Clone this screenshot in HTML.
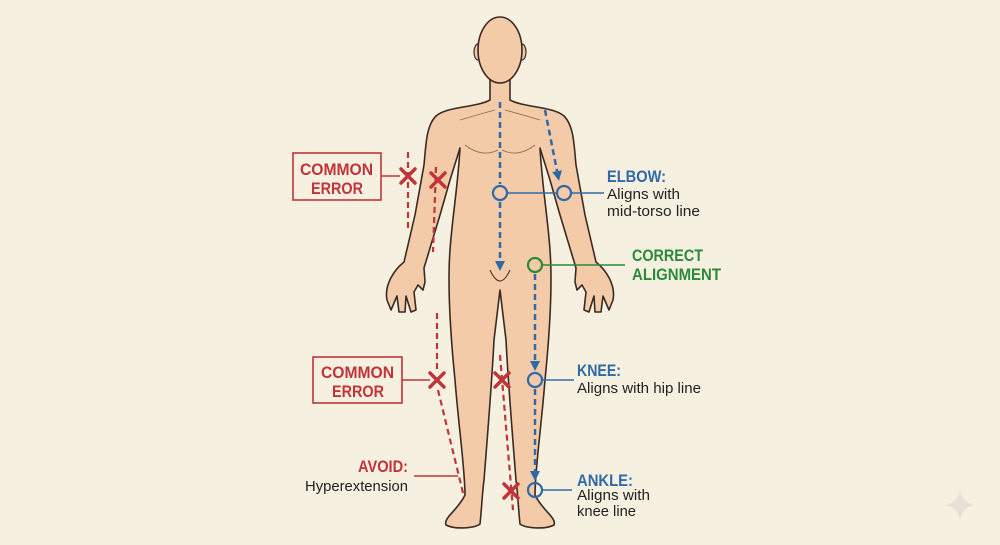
<!DOCTYPE html>
<html><head><meta charset="utf-8"><style>
html,body{margin:0;padding:0;background:#f6f0e0;}
svg{display:block}
text{font-family:"Liberation Sans",sans-serif;}
</style></head><body>
<svg width="1000" height="545" viewBox="0 0 1000 545" xmlns="http://www.w3.org/2000/svg">
<defs>
<marker id="ab" markerWidth="10" markerHeight="10" refX="5" refY="5" orient="auto" markerUnits="userSpaceOnUse"><path d="M0,0 L10,5 L0,10 Z" fill="#2f6aa8"/></marker>
</defs>
<rect width="1000" height="545" fill="#f6f0e0"/>
<!-- body -->
<path fill="#f3cba9" stroke="#3a2a22" stroke-width="1.6" stroke-linejoin="round" d="
M490,78 L490,100 C475,108 448,106 436,116 C426,126 426,145 424,165 L415,215 L404,262
C394,270 384,285 387,300 L391,310 L397,296 L399,312 L405,312 L406,296 L411,312 L416,310 L414,292 L418,285 L423,290 L425,282 L424,268
L440,215 L450,180 L460,148
C458,185 452,220 450,250 C447,290 451,340 455,380 C459,430 465,470 465,495 C458,510 443,518 446,525 C455,530 475,528 480,524 C482,505 482,495 484,480 C488,430 492,380 494,340 L500,290
L506,340 C508,380 512,430 516,480 C518,495 518,505 520,524 C525,528 545,530 554,525 C557,518 542,510 535,495 C535,470 541,430 545,380 C549,340 553,290 550,250 C548,220 542,185 540,148
L550,180 L560,215 L576,268 L575,282 L577,290 L582,285 L586,292 L584,310 L589,312 L594,296 L595,312 L601,312 L603,296 L609,310 L613,300 C616,285 606,270 596,262
L585,215 L576,165 C574,145 574,126 564,116 C552,106 525,108 510,100 L510,78 Z"/>
<ellipse cx="478" cy="52" rx="4" ry="8" fill="#f3cba9" stroke="#3a2a22" stroke-width="1.2"/>
<ellipse cx="522" cy="52" rx="4" ry="8" fill="#f3cba9" stroke="#3a2a22" stroke-width="1.2"/>
<ellipse cx="500" cy="50" rx="22" ry="33" fill="#f3cba9" stroke="#3a2a22" stroke-width="1.6"/>
<path d="M490,270 Q500,292 510,270" fill="none" stroke="#3a2a22" stroke-width="1"/>
<path d="M465,145 Q482,158 498,150 M502,150 Q518,158 535,145 M460,120 Q480,114 495,110 M505,110 Q520,114 540,120" fill="none" stroke="#8a6a55" stroke-width="0.8"/>
<!-- blue lines -->
<g stroke="#2f6aa8" stroke-width="2.5" fill="none">
<line x1="500" y1="102" x2="500" y2="184" stroke-dasharray="6,4"/>
<line x1="500" y1="202" x2="500" y2="266" stroke-dasharray="6,4" marker-end="url(#ab)"/>
<line x1="545" y1="110" x2="558" y2="176" stroke-dasharray="6,4" marker-end="url(#ab)"/>
<line x1="535" y1="274" x2="535" y2="366" stroke-dasharray="6,4" marker-end="url(#ab)"/>
<line x1="535" y1="389" x2="535" y2="476" stroke-dasharray="6,4" marker-end="url(#ab)"/>
</g>
<g stroke="#2f6aa8" stroke-width="1.6" fill="none">
<line x1="507" y1="193" x2="557" y2="193"/><line x1="571" y1="193" x2="604" y2="193"/>
<line x1="542" y1="380" x2="574" y2="380"/><line x1="542" y1="490" x2="572" y2="490"/>
</g>
<g stroke="#2f6aa8" stroke-width="2.2" fill="none">
<circle cx="500" cy="193" r="7"/><circle cx="564" cy="193" r="7"/>
<circle cx="535" cy="380" r="7"/><circle cx="535" cy="490" r="7"/>
</g>
<circle cx="535" cy="265" r="7" stroke="#2a8a3a" stroke-width="2.2" fill="none"/>
<line x1="542" y1="265" x2="625" y2="265" stroke="#2a8a3a" stroke-width="1.6"/>
<!-- red -->
<g stroke="#c0343a" stroke-width="2.2" fill="none" stroke-dasharray="6,4">
<line x1="408" y1="152" x2="408" y2="228"/>
<line x1="436" y1="167" x2="433" y2="252"/>
<line x1="437" y1="313" x2="437" y2="372"/>
<line x1="438" y1="390" x2="464" y2="497"/>
<line x1="500" y1="355" x2="513" y2="510"/>
</g>
<g stroke="#c0343a" stroke-width="1.6" fill="#f6f0e0">
<rect x="293" y="153" width="88" height="47"/>
<rect x="313" y="357" width="89" height="46"/>
</g>
<g stroke="#c0343a" stroke-width="1.6">
<line x1="381" y1="176" x2="400" y2="176"/>
<line x1="402" y1="380" x2="430" y2="380"/>
<line x1="414" y1="476" x2="458" y2="476"/>
</g>
<g stroke="#c0343a" stroke-width="3.5" stroke-linecap="round">
<path d="M401,169 L415,183 M415,169 L401,183"/>
<path d="M431,173 L445,187 M445,173 L431,187"/>
<path d="M430,373 L444,387 M444,373 L430,387"/>
<path d="M495,373 L509,387 M509,373 L495,387"/>
<path d="M504,484 L518,498 M518,484 L504,498"/>
</g>
<g fill="#c0343a" font-weight="bold" font-size="17" lengthAdjust="spacingAndGlyphs">
<text x="300" y="175" textLength="73" lengthAdjust="spacingAndGlyphs">COMMON</text>
<text x="311" y="194" textLength="52" lengthAdjust="spacingAndGlyphs">ERROR</text>
<text x="321" y="378" textLength="73" lengthAdjust="spacingAndGlyphs">COMMON</text>
<text x="332" y="397" textLength="52" lengthAdjust="spacingAndGlyphs">ERROR</text>
<text x="358" y="472" textLength="50" lengthAdjust="spacingAndGlyphs">AVOID:</text>
</g>
<text x="305" y="491" font-size="15" fill="#222" textLength="103" lengthAdjust="spacingAndGlyphs">Hyperextension</text>
<g fill="#2f6aa8" font-weight="bold" font-size="17">
<text x="607" y="182" textLength="59" lengthAdjust="spacingAndGlyphs">ELBOW:</text>
<text x="577" y="376" textLength="44" lengthAdjust="spacingAndGlyphs">KNEE:</text>
<text x="577" y="486" textLength="56" lengthAdjust="spacingAndGlyphs">ANKLE:</text>
</g>
<g fill="#2a8a3a" font-weight="bold" font-size="17">
<text x="632" y="261" textLength="71" lengthAdjust="spacingAndGlyphs">CORRECT</text>
<text x="632" y="280" textLength="89" lengthAdjust="spacingAndGlyphs">ALIGNMENT</text>
</g>
<g fill="#222" font-size="15">
<text x="607" y="199" textLength="73" lengthAdjust="spacingAndGlyphs">Aligns with</text>
<text x="607" y="216" textLength="93" lengthAdjust="spacingAndGlyphs">mid-torso line</text>
<text x="577" y="393" textLength="124" lengthAdjust="spacingAndGlyphs">Aligns with hip line</text>
<text x="577" y="500" textLength="73" lengthAdjust="spacingAndGlyphs">Aligns with</text>
<text x="577" y="516" textLength="59" lengthAdjust="spacingAndGlyphs">knee line</text>
</g>
<path d="M960,490 Q962,503 975,505 Q962,507 960,520 Q958,507 945,505 Q958,503 960,490 Z" fill="#e6e1d6"/>
</svg>
</body></html>
